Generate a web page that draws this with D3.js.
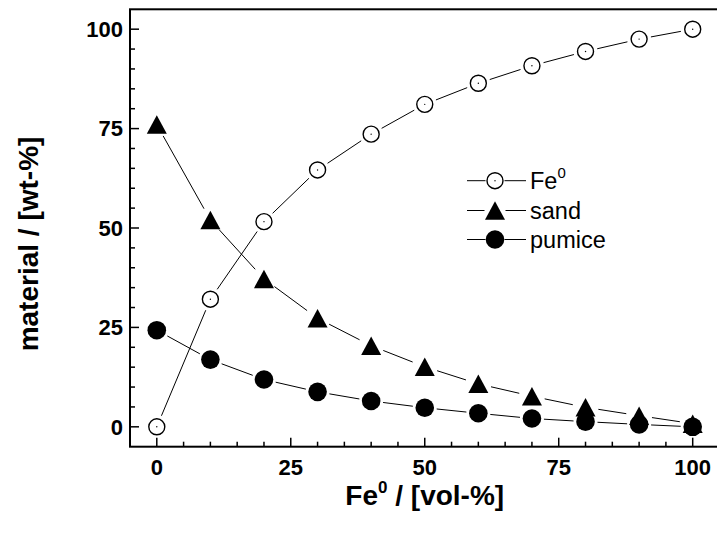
<!DOCTYPE html>
<meta charset="utf-8">
<style>
body { margin: 0; background: #fff; }
svg { font-family: "Liberation Sans", Arial, sans-serif; }
.tick-label { font-size: 22px; font-weight: bold; }
.title { font-size: 28px; font-weight: bold; }
.legend text { font-size: 23.5px; }
</style>
<svg width="717" height="536"></svg>
<script src="https://d3js.org/d3.v7.min.js"></script>
<script>

var fe = [0, 10, 20, 30, 40, 50, 60, 70, 80, 90, 100];
var ironShare = [0, 32.1, 51.6, 64.6, 73.6, 81.1, 86.4, 90.8, 94.4, 97.5, 100];
var sandShare = [76, 52, 37.2, 27.3, 20.4, 15.1, 10.8, 7.7, 4.9, 2.8, 0.8];
var pumiceShare = [24.3, 16.9, 11.9, 8.8, 6.5, 4.8, 3.4, 2.1, 1.3, 0.6, 0];
var majorTicks = [0, 25, 50, 75, 100];
var minorTicks = d3.range(-5, 106, 5);

var svg = d3.select("svg");

var x = d3.scaleLinear().domain([-5, 105]).range([130, 719.5]);
var y = d3.scaleLinear().domain([-5, 105]).range([446.7, 9.3]);

var series = [
  {name: "Fe", sup: "0", values: ironShare, shape: "open"},
  {name: "sand", values: sandShare, shape: "triangle"},
  {name: "pumice", values: pumiceShare, shape: "dot"}
];

function markerRadius(shape) { return shape == "triangle" ? 10 : 9; }

function drawMarker(g, shape, cx, cy) {
  if (shape == "open") {
    g.append("circle").attr("cx", cx).attr("cy", cy).attr("r", 8)
      .attr("fill", "#fff").attr("stroke", "#000").attr("stroke-width", 1.4);
    g.append("circle").attr("cx", cx).attr("cy", cy).attr("r", 0.7).attr("fill", "#000");
  } else if (shape == "dot") {
    g.append("circle").attr("cx", cx).attr("cy", cy).attr("r", 9.3).attr("fill", "#000");
  } else {
    // triangle centred on its bounding box
    var w = 20, h = 18.5;
    g.append("path")
      .attr("d", "M" + cx + "," + (cy - h / 2) + "L" + (cx + w / 2) + "," + (cy + h / 2) +
                 "L" + (cx - w / 2) + "," + (cy + h / 2) + "Z")
      .attr("fill", "#000");
  }
}

// connecting lines, with small gaps at the markers
series.forEach(function(s) {
  var g = svg.append("g");
  var gap = markerRadius(s.shape) + 3;
  for (var i = 1; i < fe.length; i++) {
    var x0 = x(fe[i - 1]), y0 = y(s.values[i - 1]),
        x1 = x(fe[i]), y1 = y(s.values[i]);
    var dx = x1 - x0, dy = y1 - y0, len = Math.sqrt(dx * dx + dy * dy);
    if (len <= 2 * gap) continue;
    var ux = dx / len, uy = dy / len;
    g.append("line")
      .attr("x1", x0 + ux * gap).attr("y1", y0 + uy * gap)
      .attr("x2", x1 - ux * gap).attr("y2", y1 - uy * gap)
      .attr("stroke", "#000").attr("stroke-width", 1);
  }
});

series.forEach(function(s) {
  var g = svg.append("g");
  fe.forEach(function(v, i) { drawMarker(g, s.shape, x(v), y(s.values[i])); });
});

// frame
var frame = svg.append("g").attr("stroke", "#000").attr("fill", "none");
frame.append("rect")
  .attr("x", x(-5)).attr("y", y(105))
  .attr("width", x(105) - x(-5)).attr("height", y(-5) - y(105))
  .attr("stroke-width", 2);

// ticks (inward)
var ticks = svg.append("g").attr("stroke", "#000").attr("stroke-width", 1.5);
minorTicks.forEach(function(t) {
  var len = majorTicks.indexOf(t) >= 0 ? 9 : 5;
  if (t > -5 && t < 105) {
    ticks.append("line").attr("x1", x(-5)).attr("x2", x(-5) + len)
      .attr("y1", y(t)).attr("y2", y(t));
    ticks.append("line").attr("y1", y(-5)).attr("y2", y(-5) - len)
      .attr("x1", x(t)).attr("x2", x(t));
  }
});

svg.append("g").selectAll("text").data(majorTicks).enter().append("text")
  .attr("class", "tick-label")
  .attr("x", x(-5) - 7)
  .attr("y", function(d) { return y(d); })
  .attr("dy", "0.35em")
  .attr("text-anchor", "end")
  .text(function(d) { return d; });

svg.append("g").selectAll("text").data(majorTicks).enter().append("text")
  .attr("class", "tick-label")
  .attr("x", function(d) { return x(d); })
  .attr("y", 474.5)
  .attr("text-anchor", "middle")
  .text(function(d) { return d; });

// axis titles
var xt = svg.append("text").attr("class", "title")
  .attr("x", (x(-5) + x(105)) / 2).attr("y", 505)
  .attr("text-anchor", "middle");
xt.append("tspan").text("Fe");
xt.append("tspan").attr("font-size", "17px").attr("dy", "-12").text("0");
xt.append("tspan").attr("dy", "12").text(" / [vol-%]");

svg.append("text").attr("class", "title")
  .attr("transform", "translate(38,244) rotate(-90)")
  .attr("text-anchor", "middle")
  .text("material / [wt-%]");

// legend
var legend = svg.append("g").attr("class", "legend");
var rowY = [180.7, 210.5, 239.5];
series.forEach(function(s, i) {
  var ly = rowY[i], r = markerRadius(s.shape) - 1;
  legend.append("line").attr("x1", 467).attr("x2", 495 - r - 1.5)
    .attr("y1", ly).attr("y2", ly).attr("stroke", "#000");
  legend.append("line").attr("x1", 495 + r + 1.5).attr("x2", 526)
    .attr("y1", ly).attr("y2", ly).attr("stroke", "#000");
  drawMarker(legend, s.shape, 495, ly);
  var t = legend.append("text").attr("x", 530).attr("y", ly + 8);
  t.append("tspan").text(s.name);
  if (s.sup) t.append("tspan").attr("font-size", "15px").attr("dy", "-11").text(s.sup);
});

</script>
